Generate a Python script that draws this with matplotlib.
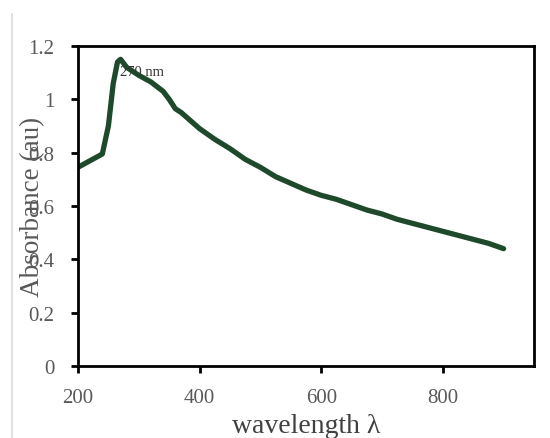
import matplotlib
matplotlib.use("Agg")
import matplotlib.pyplot as plt
from matplotlib.lines import Line2D

# UV-Vis absorbance spectrum
wavelength = [200, 220, 240, 250, 258, 265, 270, 280, 300, 320, 340, 350, 360,
              370, 380, 400, 425, 450, 475, 500, 525, 550, 575, 600, 625, 650,
              675, 700, 725, 750, 775, 800, 825, 850, 875, 900]
absorbance = [0.745, 0.77, 0.795, 0.90, 1.06, 1.14, 1.15, 1.12, 1.09, 1.065,
              1.03, 1.00, 0.965, 0.95, 0.93, 0.89, 0.85, 0.815, 0.775, 0.745,
              0.71, 0.685, 0.66, 0.64, 0.625, 0.605, 0.585, 0.57, 0.55, 0.535,
              0.52, 0.505, 0.49, 0.475, 0.46, 0.44]
x_ticks = [200, 400, 600, 800]
y_ticks = [0, 0.2, 0.4, 0.6, 0.8, 1.0, 1.2]
y_tick_labels = ["0", "0.2", "0.4", "0.6", "0.8", "1", "1.2"]
peak_label = "270 nm"

plt.rcParams["font.family"] = ["Liberation Serif", "DejaVu Serif"]

fig = plt.figure(figsize=(5.5, 4.39), dpi=100)
ax = fig.add_axes([0.1418, 0.164, 0.8291, 0.729])

ax.plot(wavelength, absorbance, color="#1e4a2b", lw=3.8,
        solid_capstyle="round", solid_joinstyle="round")

ax.set_xlim(200, 950)
ax.set_ylim(0, 1.2)
ax.set_xticks(x_ticks)
ax.set_yticks(y_ticks)
ax.set_yticklabels(y_tick_labels)

for s in ax.spines.values():
    s.set_linewidth(2.0)
    s.set_color("black")

ax.tick_params(axis="both", direction="out", length=5, width=2,
               color="black", labelcolor="#595959", labelsize=15)
ax.tick_params(axis="y", pad=12)
ax.tick_params(axis="x", pad=11)

ax.text(269, 1.106, peak_label, fontsize=10.5, color="#333333",
        ha="left", va="center")

ax.set_xlabel("wavelength λ", fontsize=20, color="#404040", labelpad=4)
ax.set_ylabel("Absorbance (au)", fontsize=19.5, color="#595959")
# y label sits over the tick labels, right edge about 33 px left of the axis
ax.yaxis.set_label_coords(-33 / 456, 0.5)

# faint outer frame edge on the left
fig.add_artist(Line2D([12 / 550, 12 / 550], [0, 1 - 15 / 439],
                      transform=fig.transFigure, color="#dcdcdc", lw=1.2))

fig.savefig("out.png", dpi=100, facecolor="white")
